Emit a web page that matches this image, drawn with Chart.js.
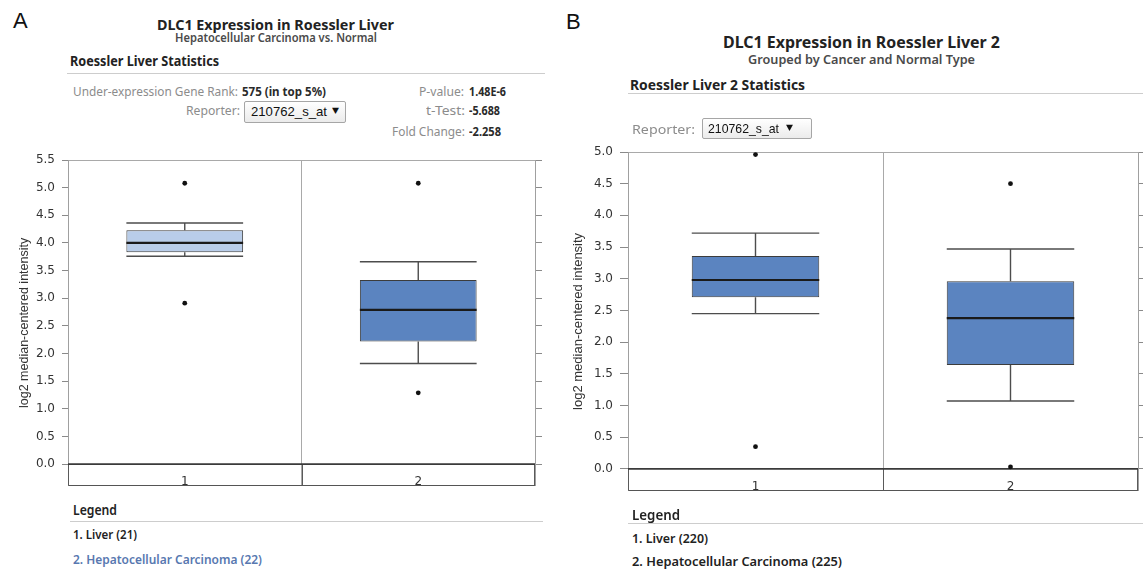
<!DOCTYPE html>
<html>
<head>
<meta charset="utf-8">
<script src="https://cdn.jsdelivr.net/npm/chart.js@4.4.1/dist/chart.umd.min.js"></script>
<style>
html, body { margin: 0; padding: 0; background: #fff; }
#page { position: relative; width: 1143px; height: 572px; overflow: hidden; background: #fff; }
.t { position: absolute; white-space: nowrap; line-height: 1.2; transform-origin: 0 50%; }
.rule { position: absolute; height: 1px; background: #cdcdcd; }
.dd { position: absolute; border: 1px solid #a6a6a6; border-radius: 2px; background: linear-gradient(#ffffff, #ebebeb); box-sizing: border-box; }
canvas { position: absolute; }
</style>
</head>
<body>
<div id="page">
  <canvas id="chartA" width="560" height="360" style="left:0px;top:140px;width:560px;height:360px"></canvas>
  <canvas id="chartB" width="583" height="370" style="left:560px;top:135px;width:583px;height:370px"></canvas>
</div>
<script>
// ---------------- data ----------------
const categories = ['1', '2'];
const yAxisTitle = 'log2 median-centered intensity';

// Panel A : Roessler Liver (1 = Liver, 2 = Hepatocellular Carcinoma)
const yTicksA = [0, 0.5, 1.0, 1.5, 2.0, 2.5, 3.0, 3.5, 4.0, 4.5, 5.0, 5.5];
const aWhiskerLow  = [3.76, 1.82];
const aQ1          = [3.83, 2.22];
const aMedian      = [4.00, 2.79];
const aQ3          = [4.23, 3.33];
const aWhiskerHigh = [4.36, 3.66];
const aOutlierHigh = [5.08, 5.08];
const aOutlierLow  = [2.91, 1.29];
const legendA = ['1. Liver (21)', '2. Hepatocellular Carcinoma (22)'];

// Panel B : Roessler Liver 2
const yTicksB = [0, 0.5, 1.0, 1.5, 2.0, 2.5, 3.0, 3.5, 4.0, 4.5, 5.0];
const bWhiskerLow  = [2.45, 1.07];
const bQ1          = [2.71, 1.64];
const bMedian      = [2.98, 2.38];
const bQ3          = [3.36, 2.96];
const bWhiskerHigh = [3.72, 3.47];
const bOutlierHigh = [4.96, 4.50];
const bOutlierLow  = [0.35, 0.03];
const legendB = ['1. Liver (220)', '2. Hepatocellular Carcinoma (225)'];

// ---------------- text ----------------
const page = document.getElementById('page');
const fitList = [];
const SANS = "'Noto Sans', 'DejaVu Sans', sans-serif";
const ARIAL = "'Liberation Sans', Arial, sans-serif";
function T(text, x, cy, w, size, weight, color, family) {
  const d = document.createElement('div');
  d.className = 't';
  d.textContent = text;
  const fam = family || SANS;
  const k = fam === ARIAL ? 0.59 : 0.63;
  d.style.left = x + 'px';
  d.style.top = (cy - k * size).toFixed(1) + 'px';
  d.style.fontFamily = fam;
  d.style.fontSize = size + 'px';
  d.style.fontWeight = weight;
  d.style.color = color;
  page.appendChild(d);
  if (w) fitList.push([d, w]);
  return d;
}
function rule(x, y, w) {
  const d = document.createElement('div');
  d.className = 'rule';
  d.style.left = x + 'px'; d.style.top = y + 'px'; d.style.width = w + 'px';
  page.appendChild(d);
}
function dropdown(x, y, w, h) {
  const d = document.createElement('div');
  d.className = 'dd';
  d.style.left = x + 'px'; d.style.top = y + 'px'; d.style.width = w + 'px'; d.style.height = h + 'px';
  page.appendChild(d);
}
function fitAll() {
  fitList.forEach(([d, w]) => {
    d.style.transform = 'none';
    const cw = d.getBoundingClientRect().width;
    if (cw > 0) d.style.transform = 'scaleX(' + (w / cw).toFixed(4) + ')';
  });
}
const GRAY = '#8c8c8c', DARK = '#2a2a2a';

// Panel A header
T('A', 13, 21, null, 22, 400, '#111', ARIAL);
T('DLC1 Expression in Roessler Liver', 157, 24.5, 237, 15, 700, '#222');
T('Hepatocellular Carcinoma vs. Normal', 175, 38.5, 202, 12, 600, '#4a4a4a');
T('Roessler Liver Statistics', 70, 62, 149, 14, 700, '#222');
rule(67, 73, 478);
T('Under-expression Gene Rank:', 73, 93, 165, 12, 400, GRAY);
T('575 (in top 5%)', 242, 93, 84, 12, 700, DARK);
T('P-value:', 419, 93, 45, 12, 400, GRAY);
T('1.48E-6', 469, 93, 37, 12, 700, DARK);
T('Reporter:', 186, 112, 54, 12, 400, GRAY);
dropdown(244, 101, 102, 22);
T('210762_s_at', 251, 112, 76, 13, 400, '#111', ARIAL);
T('\u25BC', 332, 111, 7, 8, 400, '#111', "'DejaVu Sans', sans-serif");
T('t-Test:', 426, 112, 39, 12, 400, GRAY);
T('-5.688', 469, 112, 31, 12, 700, DARK);
T('Fold Change:', 392, 133, 73, 12, 400, GRAY);
T('-2.258', 469, 133, 32, 12, 700, DARK);

// Panel A legend
T('Legend', 73, 511, 44, 14, 600, '#222');
rule(70, 521, 473);
T(legendA[0], 73, 536, 64, 12, 600, '#222');
T(legendA[1], 73, 560.5, 189, 12, 600, '#5878b0');

// Panel B header
T('B', 566, 21.5, null, 22, 400, '#111', ARIAL);
T('DLC1 Expression in Roessler Liver 2', 723, 43.5, 277, 16, 700, '#222');
T('Grouped by Cancer and Normal Type', 748, 60, 227, 13, 600, '#4a4a4a');
T('Roessler Liver 2 Statistics', 630, 84.5, 175, 15, 700, '#222');
rule(628, 93, 515);
T('Reporter:', 632, 130, 63, 13, 400, GRAY);
dropdown(702, 118, 110, 21);
T('210762_s_at', 708, 128.5, 71, 13, 400, '#111', ARIAL);
T('\u25BC', 786, 127.5, 7, 8, 400, '#111', "'DejaVu Sans', sans-serif");

// Panel B legend
T('Legend', 632, 514, 48, 15, 600, '#222');
rule(628, 523, 515);
T(legendB[0], 632, 539, 76, 13, 600, '#222');
T(legendB[1], 632, 562.5, 210, 13, 600, '#222');

fitAll();
if (document.fonts && document.fonts.ready) document.fonts.ready.then(fitAll);

// ---------------- charts ----------------
const boxPlugin = {
  id: 'boxWhiskers',
  beforeDatasetsDraw(chart) {
    const ctx = chart.ctx, ca = chart.chartArea;
    const xs = chart.scales.x, ys = chart.scales.y;
    const y0 = ys.getPixelForValue(0);
    const xDiv = (xs.getPixelForValue(0) + xs.getPixelForValue(1)) / 2;
    ctx.save();
    ctx.strokeStyle = '#5a5a5a';
    ctx.lineWidth = 1;
    ctx.beginPath();
    ctx.moveTo(ca.left + 0.5, y0); ctx.lineTo(ca.left + 0.5, ca.bottom);
    ctx.moveTo(ca.right - 0.5, y0); ctx.lineTo(ca.right - 0.5, ca.bottom);
    ctx.moveTo(Math.round(xDiv) + 0.5, y0); ctx.lineTo(Math.round(xDiv) + 0.5, ca.bottom);
    ctx.stroke();
    ctx.strokeStyle = '#3a3a3a';
    ctx.lineWidth = 1.6;
    ctx.beginPath();
    ctx.moveTo(ca.left, y0); ctx.lineTo(ca.right, y0);
    ctx.stroke();
    ctx.restore();
  },
  afterDatasetDraw(chart, args) {
    const ds = chart.data.datasets[args.index];
    if (!ds.median) return;
    const ys = chart.scales.y, ctx = chart.ctx;
    args.meta.data.forEach((bar, i) => {
      const x = bar.x, hw = bar.width / 2;
      const pHi = ys.getPixelForValue(ds.whiskerHigh[i]);
      const pLo = ys.getPixelForValue(ds.whiskerLow[i]);
      const pQ3 = ys.getPixelForValue(ds.data[i][1]);
      const pQ1 = ys.getPixelForValue(ds.data[i][0]);
      const pMed = ys.getPixelForValue(ds.median[i]);
      ctx.save();
      ctx.strokeStyle = '#4d4d4d';
      ctx.lineWidth = 1.4;
      ctx.beginPath();
      ctx.moveTo(x, pQ3); ctx.lineTo(x, pHi);
      ctx.moveTo(x, pQ1); ctx.lineTo(x, pLo);
      ctx.moveTo(x - hw, pHi); ctx.lineTo(x + hw, pHi);
      ctx.moveTo(x - hw, pLo); ctx.lineTo(x + hw, pLo);
      ctx.stroke();
      ctx.strokeStyle = '#1a1a1a';
      ctx.lineWidth = 2.2;
      ctx.beginPath();
      ctx.moveTo(x - hw, pMed); ctx.lineTo(x + hw, pMed);
      ctx.stroke();
      ctx.restore();
    });
  }
};

function boxChart(id, p) {
  const tickFont = { family: "'DejaVu Sans', sans-serif", size: 12 };
  const setTicks = s => { s.ticks = p.ticks.map(v => ({ value: v })); };
  return new Chart(document.getElementById(id), {
    type: 'bar',
    data: {
      labels: categories,
      datasets: [
        {
          label: 'box',
          data: categories.map((c, i) => [p.q1[i], p.q3[i]]),
          median: p.median, whiskerLow: p.wl, whiskerHigh: p.wh,
          backgroundColor: p.colors,
          borderColor: '#3c3c3c', borderWidth: 1, borderSkipped: false,
          barPercentage: 0.5, categoryPercentage: 1.0
        },
        { type: 'line', label: 'outliers high', data: p.oh, showLine: false, clip: false,
          pointRadius: 2.4, pointBackgroundColor: '#111', pointBorderWidth: 0 },
        { type: 'line', label: 'outliers low', data: p.ol, showLine: false, clip: false,
          pointRadius: 2.4, pointBackgroundColor: '#111', pointBorderWidth: 0 }
      ]
    },
    options: {
      responsive: false, animation: false, devicePixelRatio: 1,
      layout: { padding: p.pad },
      plugins: { legend: { display: false }, tooltip: { enabled: false } },
      scales: {
        x: {
          type: 'category', offset: true,
          grid: { offset: true, color: '#a9a9a9', drawTicks: false },
          border: { color: '#555' },
          ticks: { color: '#333', font: tickFont, mirror: true, padding: -3.4 },
          afterFit: s => { s.height = 0; }
        },
        y: {
          type: 'linear', position: 'left', min: p.min, max: p.max, bounds: 'data',
          afterBuildTicks: setTicks,
          ticks: { callback: v => Number(v).toFixed(1), color: '#333', font: tickFont, padding: 7 },
          grid: {
            color: c => (c.tick && Math.abs(c.tick.value - p.max) < 1e-9) ? '#a9a9a9' : 'rgba(0,0,0,0)',
            tickColor: '#8a8a8a', tickLength: p.tl, drawTicks: true
          },
          border: { color: '#a0a0a0' },
          title: { display: true, text: yAxisTitle, color: '#333',
                   font: { family: "'Liberation Sans', Arial, sans-serif", size: p.tfs },
                   padding: { top: p.titlePad, bottom: 0 } },
          afterFit: s => { s.width = 68; }
        },
        y2: {
          type: 'linear', position: 'right', min: p.min, max: p.max, bounds: 'data',
          afterBuildTicks: setTicks,
          ticks: { callback: () => '', padding: 0 },
          grid: { drawOnChartArea: false, tickColor: '#8a8a8a', tickLength: p.tl2 },
          border: { color: '#a0a0a0' },
          afterFit: s => { s.width = p.y2W; }
        }
      }
    },
    plugins: [boxPlugin]
  });
}

boxChart('chartA', {
  q1: aQ1, q3: aQ3, median: aMedian, wl: aWhiskerLow, wh: aWhiskerHigh,
  oh: aOutlierHigh, ol: aOutlierLow, ticks: yTicksA,
  colors: ['#b9cde9', '#5b84c0'],
  min: -0.3916, max: 5.5,
  pad: { top: 20, bottom: 9, left: 0, right: 17 },
  tl: 6, tl2: 7, y2W: 8, tfs: 12.5, titlePad: 17.5
});
boxChart('chartB', {
  q1: bQ1, q3: bQ3, median: bMedian, wl: bWhiskerLow, wh: bWhiskerHigh,
  oh: bOutlierHigh, ol: bOutlierLow, ticks: yTicksB,
  colors: ['#5b84c0', '#5b84c0'],
  min: -0.346, max: 5.0,
  pad: { top: 17, bottom: 13, left: 0, right: 0 },
  tl: 8, tl2: 5, y2W: 5, tfs: 13, titlePad: 10.2
});
</script>
</body>
</html>
